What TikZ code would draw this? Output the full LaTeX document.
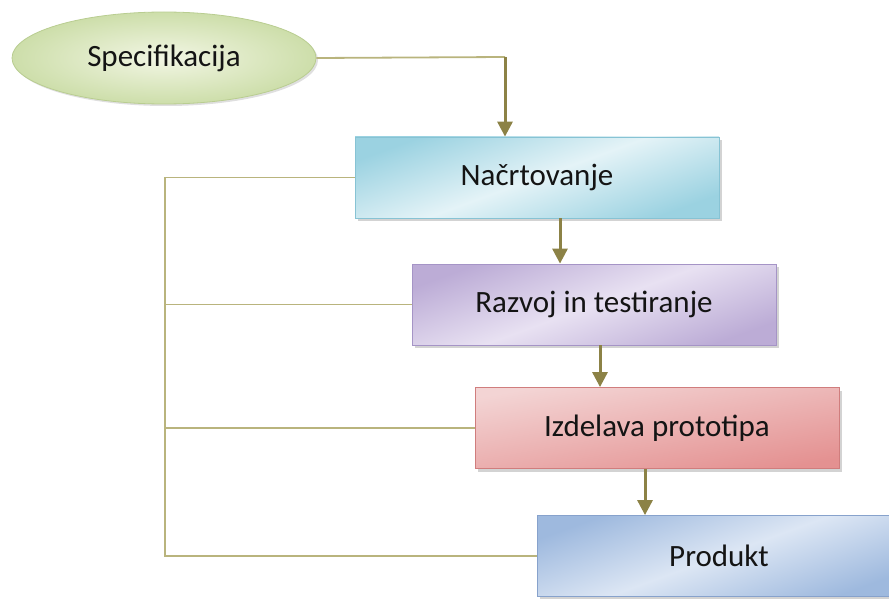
\documentclass[tikz,border=0pt]{standalone}
\usepackage{fontspec}
\setmainfont{Carlito}
\usetikzlibrary{shapes.geometric,arrows.meta,shadows}

\definecolor{linkline}{RGB}{185,180,125}
\definecolor{arrowline}{RGB}{140,130,70}
\definecolor{txt}{RGB}{20,20,20}
\definecolor{grnA}{RGB}{205,222,170}
\definecolor{grnB}{RGB}{242,246,228}
\definecolor{grnD}{RGB}{185,205,145}
\definecolor{cyaA}{RGB}{155,210,225}
\definecolor{cyaB}{RGB}{228,243,247}
\definecolor{cyaD}{RGB}{135,195,212}
\definecolor{purA}{RGB}{188,172,214}
\definecolor{purB}{RGB}{232,225,242}
\definecolor{purD}{RGB}{165,148,198}
\definecolor{pnkA}{RGB}{228,145,145}
\definecolor{pnkB}{RGB}{243,212,212}
\definecolor{pnkD}{RGB}{208,125,125}
\definecolor{bluA}{RGB}{158,185,222}
\definecolor{bluB}{RGB}{220,230,244}
\definecolor{bluD}{RGB}{135,162,204}

\tikzset{
  label text/.style={font=\fontsize{31}{36}\selectfont, text=txt},
  stagebox/.style={rectangle, minimum width=364pt, minimum height=81pt,
    line width=0.8pt, label text,
    drop shadow={shadow xshift=3pt, shadow yshift=-3pt, opacity=0.35, fill=gray}},
  startoval/.style={ellipse, minimum width=304pt, minimum height=92pt,
    line width=0.8pt, label text, draw=grnD,
    inner color=grnB, outer color=grnA,
    drop shadow={shadow xshift=2pt, shadow yshift=-2pt, opacity=0.25, fill=gray}},
  feed/.style={draw=linkline, line width=1.8pt},
  flow/.style={draw=arrowline, line width=3pt,
    -{Triangle[width=15pt,length=15pt]}},
}

\begin{document}
\begin{tikzpicture}[x=1pt, y=-1pt]
  \useasboundingbox (0,0) rectangle (889,599);

  % start of the process
  \node[startoval] (spec) at (164,58) {Specifikacija};

  % process stages
  \node[stagebox, draw=cyaD, top color=cyaA, bottom color=cyaA, middle color=cyaB,
        shading angle=20] (nac) at (537,177.5) {Načrtovanje};
  \node[stagebox, draw=purD, top color=purA, bottom color=purA, middle color=purB,
        shading angle=20] (raz) at (594,304.5) {Razvoj in testiranje};
  \node[stagebox, draw=pnkD, top color=pnkB, bottom color=pnkA,
        shading angle=10] (izd) at (657,428) {Izdelava prototipa};
  \node[stagebox, draw=bluD, top color=bluA, bottom color=bluA, middle color=bluB,
        shading angle=20] (prod) at (719,556) {Produkt};

  % feedback rail on the left
  \coordinate (railtop) at (165,177.5);
  \coordinate (railbot) at (165,556);
  \draw[feed] (nac.west) -- (railtop) -- (railbot) -- (prod.west);
  \draw[feed] (raz.west) -- (raz.west -| railtop);
  \draw[feed] (izd.west) -- (izd.west -| railtop);

  % connector from the specification to the first stage
  \coordinate (bend) at (505,57);
  \draw[feed] (spec.east) -- (bend);
  \draw[flow] (bend) -- (bend |- nac.north);

  % arrows between stages
  \coordinate (a1) at ([xshift=23pt]nac.south);
  \coordinate (a2) at ([xshift=6pt]raz.south);
  \coordinate (a3) at ([xshift=-12pt]izd.south);
  \draw[flow] (a1) -- (a1 |- raz.north);
  \draw[flow] (a2) -- (a2 |- izd.north);
  \draw[flow] (a3) -- (a3 |- prod.north);
\end{tikzpicture}
\end{document}
